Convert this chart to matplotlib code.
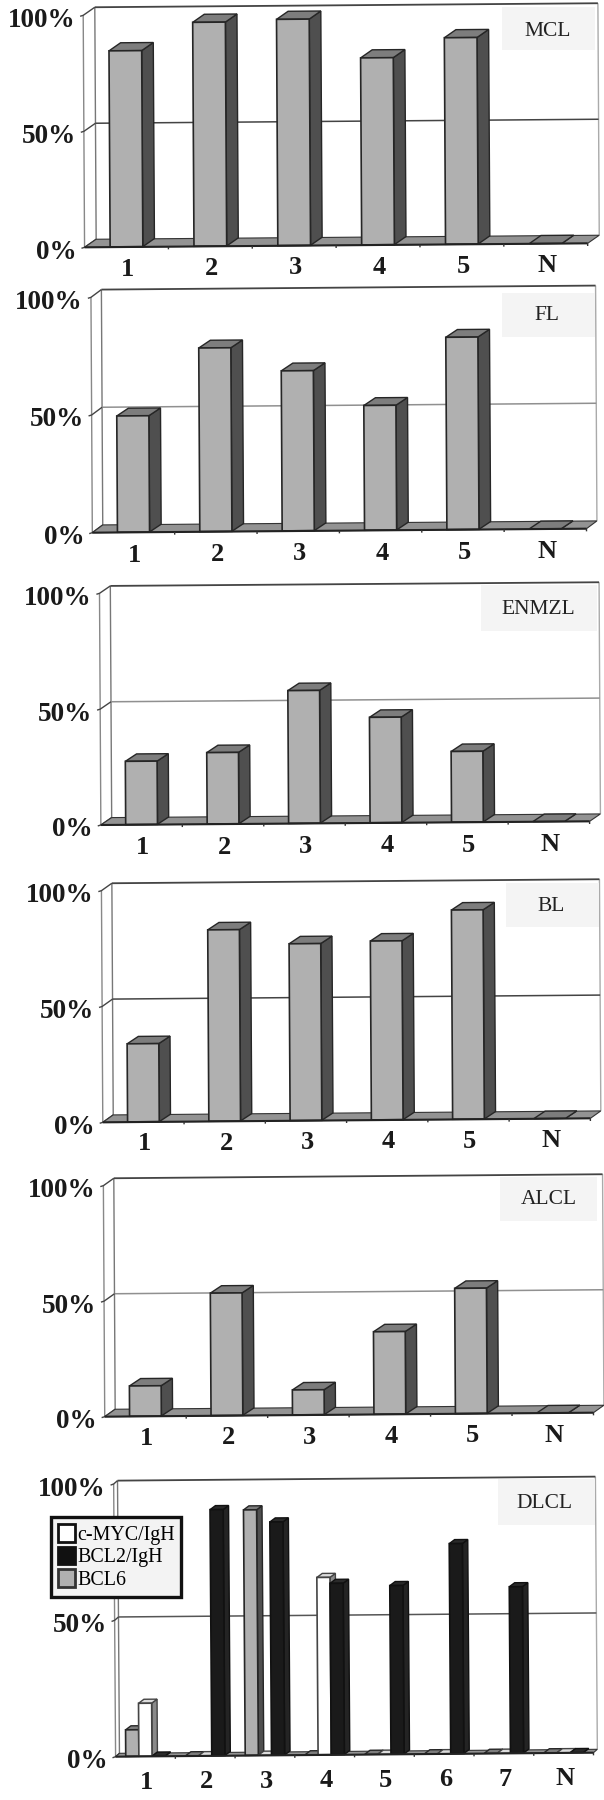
import matplotlib
matplotlib.use('Agg')
import matplotlib.pyplot as plt
from matplotlib.patches import Polygon, Rectangle, Patch
from matplotlib.transforms import Affine2D

plt.rcParams['font.family'] = ['Liberation Serif', 'DejaVu Serif']

# Valeurs (%)
cats_5 = ['1', '2', '3', '4', '5', 'N']
cats_dlcl = ['1', '2', '3', '4', '5', '6', '7', 'N']
mcl = [84.5, 96.5, 97.5, 80.6, 89.0, 0]
fl = [49.4, 78.0, 68.0, 53.0, 81.7, 0]
enmzl = [27.3, 30.8, 57.3, 45.5, 30.5, 0]
bl = [33.7, 82.6, 76.3, 77.2, 90.3, 0]
alcl = [13.1, 53.0, 10.8, 35.7, 54.2, 0]
dlcl_bcl6 = [9.7, 0, 90.0, 0, 0, 0, 0, 0]
dlcl_myc = [19.4, 0, 0, 65.0, 0, 0, 0, 0]
dlcl_bcl2 = [0, 90.2, 85.5, 62.8, 61.8, 77.0, 61.0, 0]
y_ticks = [0, 50, 100]

# Mise en page : unités de la loupe (1 px = 2.578 unités en x, 3 en y)
ZX, ZY = 2.578, 3.0
GREY = ('#b0b0b0', '#4f4f4f', '#7d7d7d', '#262626')
WHITE = ('#ffffff', '#8a8a8a', '#dcdcdc', '#444444')
BLACK = ('#1a1a1a', '#242424', '#2a2a2a', '#111111')
TXT = '#1a1a1a'

W, H = 604, 1800


def fx(xz):
    return xz / ZX / W


def fy(yz, off):
    return 1 - (off + yz / ZY) / H


def draw_panel(name, cats, series, styles, off, xl, xr, y0, y100, wall, depth,
               width, tilt_z, shear_z, grid_col, box, lab, lab_off):
    n = len(cats)
    ax = fig.add_axes([fx(xl), fy(y0, off), fx(xr) - fx(xl), fy(y100, off) - fy(y0, off)])
    ax.set_xlim(0, n)
    ax.set_ylim(0, 100)
    ax.axis('off')

    span = y0 - y100
    w_cat = (xr - xl) / n
    # légère rotation du scan
    tr = Affine2D.from_values(1, tilt_z / span * 100 / n, shear_z / w_cat / 100, 1, 0, 0) + ax.transData
    wx, wy = wall[0] / w_cat, wall[1] / span * 100
    dx, dy = depth[0] / w_cat, depth[1] / span * 100

    # cartouche du nom
    fig.patches.append(Rectangle((fx(box[0]), fy(box[3], off)), fx(box[1]) - fx(box[0]),
                                 fy(box[2], off) - fy(box[3], off), transform=fig.transFigure,
                                 fc='#f4f4f4', ec='none', figure=fig))
    fig.text(fx(lab[0]), fy(lab[1], off), name, fontsize=15.5, ha='center', va='center', color='#222222')

    def line(xs, ys, col, lw, z=1):
        ax.plot(xs, ys, color=col, lw=lw, transform=tr, clip_on=False, zorder=z, solid_capstyle='butt')

    def poly(pts, fc, ec, lw, z):
        ax.add_patch(Polygon(pts, closed=True, fc=fc, ec=ec, lw=lw, transform=tr, clip_on=False,
                             zorder=z, joinstyle='miter'))

    # parois
    line([wx, wx], [wy, 100 + wy], '#777777', 1.0)
    line([0, 0], [0, 100], '#888888', 1.0)
    line([n + wx, n + wx], [wy, 100 + wy], '#aaaaaa', 1.0)
    line([wx, n + wx], [100 + wy, 100 + wy], '#444444', 1.3)
    line([wx, n + wx], [50 + wy, 50 + wy], grid_col, 1.1)
    for t in y_ticks:
        line([-8 / w_cat, 0, wx], [t - 0.4, t, t + wy], '#444444', 1.0)

    # sol
    poly([(0, 0), (n, 0), (n + wx, wy), (wx, wy)], '#939393', '#333333', 0.8, 2)

    # barres
    m = len(series)
    for i in range(n):
        for j in range(m):
            v = series[j][i]
            face, side, top, edge = styles[j]
            c = i + 0.5 + (j - (m - 1) / 2) * width
            x0, x1 = c - width / 2, c + width / 2
            b = 0.1
            t = b + v
            poly([(x1, b), (x1 + dx, b + dy), (x1 + dx, t + dy), (x1, t)], side, edge, 1.0, 3 + i)
            poly([(x0, t), (x1, t), (x1 + dx, t + dy), (x0 + dx, t + dy)], top, edge, 1.0, 3 + i)
            if v > 0:
                poly([(x0, b), (x1, b), (x1, t), (x0, t)], face, edge, 1.2, 3 + i)

    # axe X, graduations et textes
    line([0, n], [0, 0], '#222222', 1.5, 40)
    for k in range(1, n + 1):
        line([k, k], [0, -8 / span * 100], '#333333', 1.0, 40)
    for i, c in enumerate(cats):
        ax.annotate(c, (i + 0.5, 0), xycoords=tr, xytext=(1, -lab_off * 0.72), textcoords='offset points',
                    fontsize=19, fontweight='bold', ha='center', va='center', color=TXT,
                    annotation_clip=False)
    for t in y_ticks:
        ax.annotate(f'{t}%', (0, t), xycoords=tr, xytext=(-8 * 0.72, -5 * 0.72), textcoords='offset points',
                    fontsize=19.5, fontweight='bold', ha='right', va='center', color=TXT,
                    annotation_clip=False)
    return ax


fig = plt.figure(figsize=(W / 100, H / 100), dpi=100, facecolor='white')

draw_panel('MCL', cats_5, [mcl], [GREY], 0, 218, 1515, 742, 46, (30, 24), (30, 24), 0.39, 12, -3.5,
           '#444444', (1295, 1535, 22, 150), (1413, 95), 22)
draw_panel('FL', cats_5, [fl], [GREY], 280, 238, 1512, 758, 52, (27, 23), (30, 23), 0.39, 12, -3.5,
           '#909090', (1295, 1535, 40, 170), (1410, 107), 23)
draw_panel('ENMZL', cats_5, [enmzl], [GREY], 575, 260, 1520, 750, 55, (28, 22), (29, 22), 0.39, 11, -3.5,
           '#909090', (1240, 1540, 30, 168), (1387, 105), 23)
draw_panel('BL', cats_5, [bl], [GREY], 870, 265, 1522, 757, 62, (27, 22), (29, 22), 0.39, 12, -3.5,
           '#444444', (1305, 1545, 40, 172), (1420, 110), 22)
draw_panel('ALCL', cats_5, [alcl], [GREY], 1165, 270, 1530, 755, 62, (27, 22), (29, 22), 0.39, 12, -3.5,
           '#909090', (1288, 1540, 35, 168), (1415, 105), 22)
ax = draw_panel('DLCL', cats_dlcl, [dlcl_bcl6, dlcl_myc, dlcl_bcl2], [GREY, WHITE, BLACK], 1460,
                298, 1530, 890, 72, (10, 10), (14, 12), 0.22, 12, -5,
                '#555555', (1283, 1535, 58, 195), (1405, 132), 26)

handles = [Patch(fc='white', ec='#111111', lw=2),
           Patch(fc='#111111', ec='#111111', lw=2),
           Patch(fc='#b0b0b0', ec='#333333', lw=2)]
leg = ax.legend(handles, ['c-MYC/IgH', 'BCL2/IgH', 'BCL6'], loc='upper left',
                bbox_to_anchor=(fx(132), fy(172, 1460)), bbox_transform=fig.transFigure,
                fontsize=14.4, handlelength=0.85, handleheight=1.0, handletextpad=0.12,
                borderpad=0.32, labelspacing=0.1, borderaxespad=0, fancybox=False,
                framealpha=1, facecolor='#f3f3f3', edgecolor='#111111')
leg.get_frame().set_linewidth(2.4)
leg.set_zorder(60)

fig.savefig('out.png', dpi=100)
